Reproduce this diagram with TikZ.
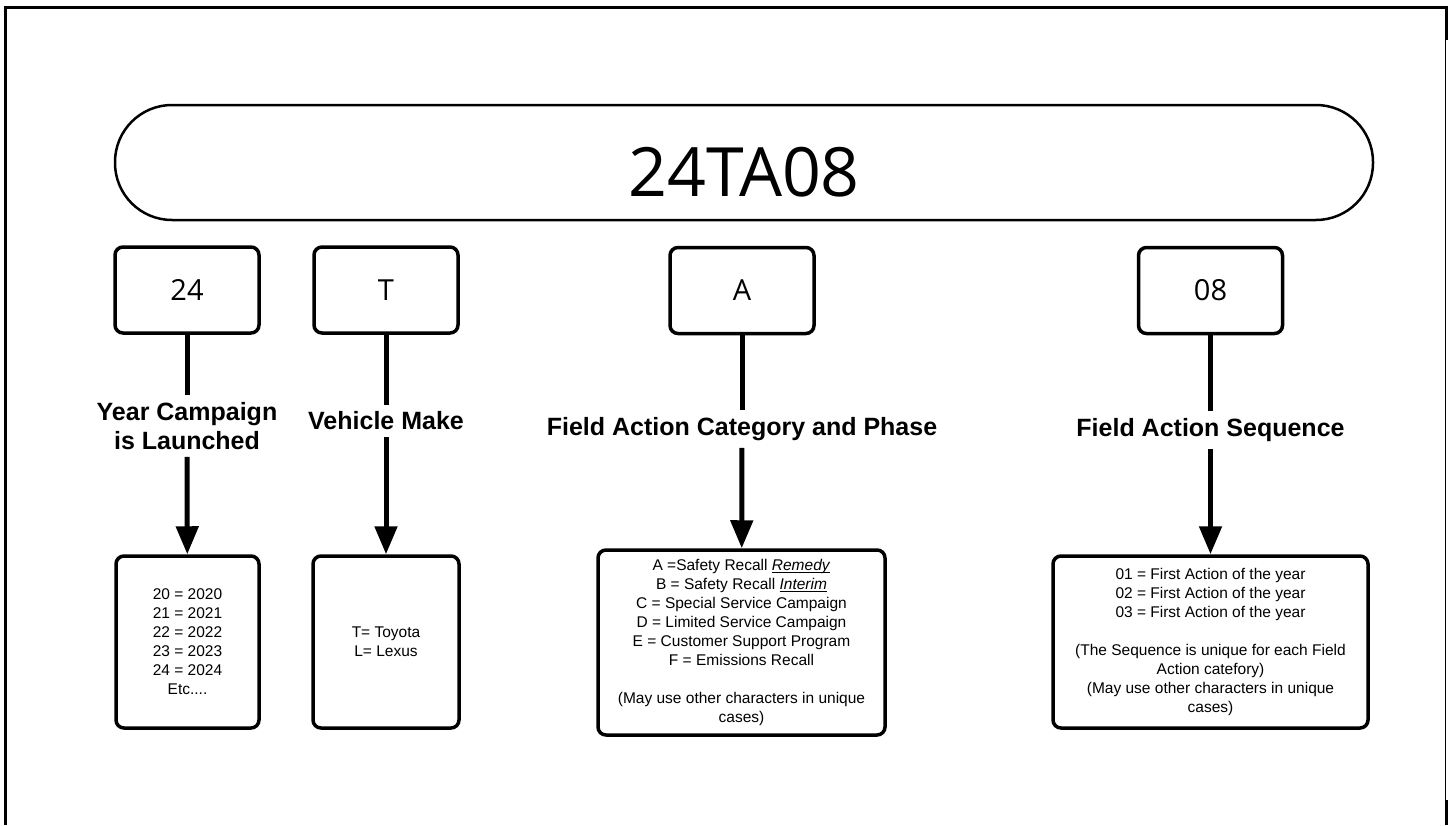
\documentclass[tikz,border=0pt]{standalone}
\usepackage{fontspec}
\setmainfont{Liberation Sans}
\newfontfamily\codefont{Open Sans}
\usetikzlibrary{arrows.meta}

% podkreslenie tuz pod linia bazowa
\newcommand{\lineunder}[1]{\setbox0\hbox{#1}\rlap{\vrule height -1.6pt depth 2.6pt width \wd0}\box0}

\begin{document}
\begin{tikzpicture}[x=1pt, y=-1pt, >={Triangle[length=28pt,width=22pt]},
        code node/.style={draw, line width=2.5pt, rounded corners=57pt, inner sep=0pt,
            minimum width=1258pt, minimum height=115pt, text height=69pt,
            font=\codefont\fontsize{68}{80}\selectfont},
        part node/.style={draw, line width=3.5pt, rounded corners=8pt,
            minimum width=144pt, minimum height=86pt, font=\codefont\fontsize{29}{34}\selectfont},
        info node/.style={draw, line width=3.5pt, rounded corners=8pt, align=center,
            font=\fontsize{15.5}{19}\selectfont},
        title node/.style={align=center, inner sep=7pt, font=\bfseries\fontsize{25}{29}\selectfont},
        link/.style={line width=5pt}]

    \useasboundingbox (0,0) rectangle (1450,825);

    % Ramka
    \draw[line width=3pt] (5,825) -- (5,7) -- (1446,7) -- (1446,40);
    \draw[line width=1pt] (1445,40) -- (1445,800);
    \draw[line width=3pt] (1446,800) -- (1446,825);

    % Kod
    \node[code node] (code) at (744,162.5) {24TA08};

    % Czesci kodu
    \node[part node] (p1) at (187,290) {24};
    \node[part node] (p2) at (386,290) {T};
    \node[part node] (p3) at (742,290.5) {A};
    \node[part node] (p4) at (1210.5,290.5) {08};

    % Opisy
    \node[title node] (t1) at (187,426) {Year Campaign\\is Launched};
    \node[title node] (t2) at (386,421) {Vehicle Make};
    \node[title node] (t3) at (742,429) {Field Action Category and Phase};
    \node[title node] (t4) at (1210.5,430) {Field Action Sequence};

    % Wartosci
    \node[info node, minimum width=143pt, minimum height=172pt] (i1) at (187.5,642)
        {20 = 2020\\21 = 2021\\22 = 2022\\23 = 2023\\24 = 2024\\Etc....};
    \node[info node, minimum width=146pt, minimum height=172pt] (i2) at (386,642)
        {T= Toyota\\L= Lexus};
    \node[info node, minimum width=287pt, minimum height=185pt] (i3) at (741.5,642.5)
        {A =Safety Recall \lineunder{\textit{Remedy}}\\B = Safety Recall \lineunder{\textit{Interim}}\\
         C = Special Service Campaign\\D = Limited Service Campaign\\
         E = Customer Support Program\\F = Emissions Recall\\[19pt]
         (May use other characters in unique\\cases)};
    \node[info node, minimum width=315pt, minimum height=172pt] (i4) at (1210.5,642)
        {01 = First Action of the year\\02 = First Action of the year\\03 = First Action of the year\\[19pt]
         (The Sequence is unique for each Field\\Action catefory)\\
         (May use other characters in unique\\cases)};

    % Strzalki
    \path (p1) edge[link] (t1);
    \path (t1) edge[link, ->] (i1);
    \path (p2) edge[link] (t2);
    \path (t2) edge[link, ->] (i2);
    \path (p3) edge[link] (t3);
    \path (t3) edge[link, ->] (i3);
    \path (p4) edge[link] (t4);
    \path (t4) edge[link, ->] (i4);
\end{tikzpicture}
\end{document}
